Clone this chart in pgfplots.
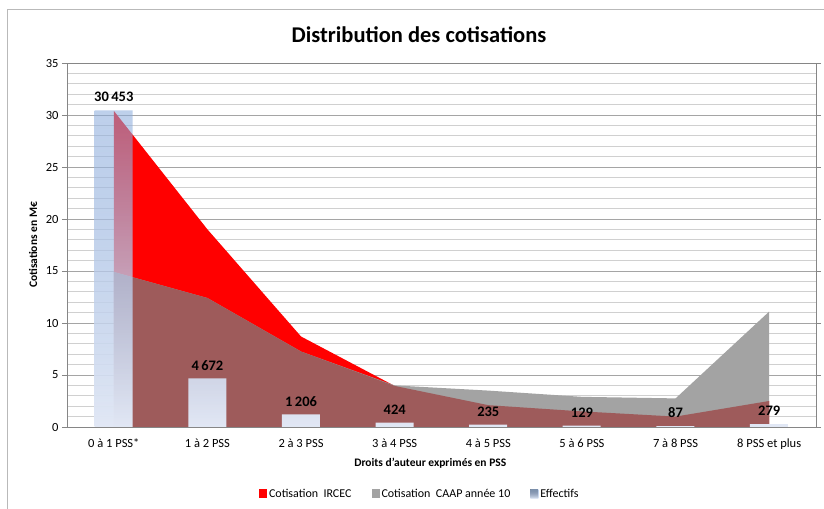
\documentclass[border=0pt]{standalone}
\usepackage{fontspec}
\setmainfont{Carlito}
\usepackage{pgfplots}
\pgfplotsset{compat=1.18}
\usetikzlibrary{fadings}
\definecolor{ircec}{RGB}{255,0,0}
\definecolor{caap}{RGB}{163,163,163}
\definecolor{overlap}{RGB}{158,91,91}
\definecolor{bartop}{RGB}{137,170,219}
\definecolor{barbot}{RGB}{226,232,245}
\definecolor{axgray}{RGB}{134,134,134}
\definecolor{majgrid}{RGB}{165,165,165}
\definecolor{mingrid}{RGB}{208,208,208}
\definecolor{frame}{RGB}{185,185,185}
\tikzfading[name=barfade, top color=transparent!45, middle color=transparent!0, bottom color=transparent!0]
\begin{document}
\begin{tikzpicture}
\useasboundingbox (0bp,0bp) rectangle (824bp,509bp);
\fill[white] (0bp,0bp) rectangle (824bp,509bp);
\draw[frame, line width=1bp] (7bp,0bp) -- (7bp,499bp) -- (824bp,499bp);
\node[font=\fontsize{22.5bp}{25bp}\selectfont\bfseries] at (419bp,474bp) {Distribution des cotisations};
\begin{axis}[
  at={(67bp,82bp)}, anchor=south west, scale only axis,
  width=749bp, height=364bp,
  xmin=-0.5, xmax=7.5, ymin=0, ymax=35,
  ytick={0,5,...,35}, minor y tick num=4,
  xtick={0,...,7},
  xticklabels={0 à 1 PSS*, 1 à 2 PSS, 2 à 3 PSS, 3 à 4 PSS, 4 à 5 PSS, 5 à 6 PSS, 7 à 8 PSS, 8 PSS et plus},
  ymajorgrids, yminorgrids,
  major grid style={majgrid, line width=0.9bp},
  minor grid style={mingrid, line width=0.9bp},
  axis line style={axgray, line width=0.8bp},
  tick align=outside, major tick length=5bp, minor tick length=0pt,
  xtick style={draw=none},
  ytick style={axgray, line width=0.8bp},
  tick label style={font=\fontsize{12.5bp}{14bp}\selectfont, text=black},
  xticklabel style={yshift=-3bp},
  /pgf/number format/assume math mode=true,
  xlabel={Droits d'auteur exprimés en PSS},
  ylabel={Cotisations en M€},
  label style={font=\fontsize{11.5bp}{13bp}\selectfont\bfseries},
  xlabel style={at={(axis description cs:0.485,-0.099)}, anchor=center},
  ylabel style={at={(axis description cs:-0.0454,0.5)}, anchor=center},
  legend style={at={(axis description cs:0.471,-0.184)}, anchor=center,
    legend columns=3, draw=none, fill=none,
    font=\fontsize{12bp}{14bp}\selectfont,
    /tikz/every even column/.append style={column sep=18bp}},
  sqlegend/.style={legend image code/.code={\fill[##1] (-1bp,-4.5bp) rectangle (7bp,4.5bp);}},
]
\addplot[draw=none, fill=ircec, sqlegend] coordinates {
  (0,30.4) (1,19.0) (2,8.7) (3,3.95) (4,2.1) (5,1.5) (6,1.0) (7,2.5)} \closedcycle;
\addlegendentry{Cotisation\ \ IRCEC}
\addplot[draw=none, fill=caap, sqlegend] coordinates {
  (0,14.9) (1,12.4) (2,7.25) (3,4.0) (4,3.5) (5,2.9) (6,2.75) (7,11.1)} \closedcycle;
\addlegendentry{Cotisation\ \ CAAP année 10}
\addplot[draw=none, fill=overlap, forget plot] coordinates {
  (0,14.9) (1,12.4) (2,7.25) (3,3.95) (4,2.1) (5,1.5) (6,1.0) (7,2.5)} \closedcycle;
\addplot[ybar, bar width=38bp, draw=none, shade, top color=bartop, bottom color=barbot,
  path fading=barfade, sqlegend] coordinates {
  (0,30.453) (1,4.672) (2,1.206) (3,0.424) (4,0.235) (5,0.129) (6,0.087) (7,0.279)};
\addlegendentry{Effectifs}
\addplot[only marks, mark=none, forget plot, nodes near coords, point meta=explicit symbolic,
  nodes near coords style={font=\fontsize{14.5bp}{16bp}\selectfont\bfseries, text=black, anchor=south, inner sep=4bp, yshift=4bp}]
  coordinates {
  (0,30.453) [30\,453] (1,4.672) [4\,672] (2,1.206) [1\,206] (3,0.424) [424]
  (4,0.235) [235] (5,0.129) [129] (6,0.087) [87] (7,0.279) [279]};
\end{axis}
\end{tikzpicture}
\end{document}
